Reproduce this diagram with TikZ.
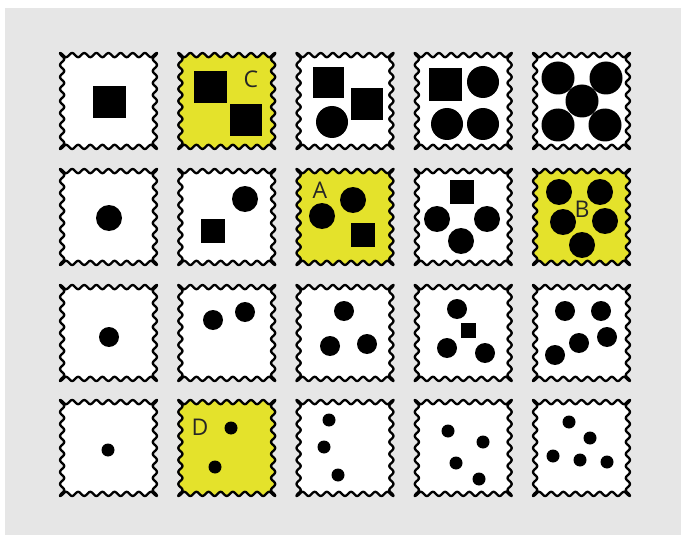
\documentclass[tikz,border=0pt]{standalone}
\usepackage{fontspec}
\setmainfont{Open Sans}
\definecolor{bgrey}{HTML}{E6E6E6}
\definecolor{hiyel}{HTML}{E4E22B}
\newcommand\drawstamp[3]{%
  \begin{scope}[shift={(#1,#2)}]
    \filldraw[stampline, fill=#3]
      (0,0) -- plot[domain=0:97] (\x,{2.1*(1-cos(29.6907*\x))})
      -- plot[domain=0:96] ({97-2.1*(1-cos(30*\x))},\x)
      -- plot[domain=97:0] (\x,{96-2.1*(1-cos(29.6907*\x))})
      -- plot[domain=96:0] ({2.1*(1-cos(30*\x))},\x) -- cycle;
  \end{scope}}
\tikzset{
  stampline/.style={draw=black, line width=2.3pt, line join=round, smooth, samples=97},
  dot/.style={fill=black},
  lbl/.style={font=\fontsize{23}{23}\selectfont, text=black!85, inner sep=0pt}
}
\begin{document}
\begin{tikzpicture}[x=1pt,y=-1pt]
\useasboundingbox (0,0) rectangle (681,535);
\fill[white] (0,0) rectangle (681,535);
\fill[bgrey] (5,8) rectangle (681,535);
% stamps
\foreach \r/\Y in {1/53,2/169,3/285,4/400}{
  \foreach \c/\X in {1/60,2/178.25,3/296.5,4/414.75,5/533}{
    \def\col{white}
    \ifnum\r\c=12 \def\col{hiyel}\fi
    \ifnum\r\c=23 \def\col{hiyel}\fi
    \ifnum\r\c=25 \def\col{hiyel}\fi
    \ifnum\r\c=42 \def\col{hiyel}\fi
    \drawstamp{\X}{\Y}{\col}
  }
}
% row 1
\fill[dot] (93,86) rectangle (126,118);
\fill[dot] (194,71) rectangle (227,103);
\fill[dot] (230,104) rectangle (262,136);
\node[lbl] (C) at (251,79) {C};
\fill[dot] (313,67) rectangle (344,98);
\fill[dot] (351,88) rectangle (383,120);
\fill[dot] (332,122) circle (16);
\fill[dot] (429,68) rectangle (462,101);
\fill[dot] (483,82) circle (16);
\fill[dot] (447,124) circle (16);
\fill[dot] (483,124) circle (16);
\fill[dot] (558,78) circle (16.5);
\fill[dot] (606,78) circle (16.5);
\fill[dot] (582,101) circle (16.5);
\fill[dot] (558,125) circle (16.5);
\fill[dot] (605,125) circle (16.5);
% row 2
\fill[dot] (109,218) circle (13);
\fill[dot] (245,199) circle (13);
\fill[dot] (201,219) rectangle (225,243);
\fill[dot] (322,216) circle (13);
\fill[dot] (353,200) circle (13);
\fill[dot] (351,223) rectangle (375,247);
\node[lbl] (A) at (320,190) {A};
\fill[dot] (450,180) rectangle (474,204);
\fill[dot] (437,219) circle (13);
\fill[dot] (487,219) circle (13);
\fill[dot] (461,241) circle (13);
\fill[dot] (559,192) circle (13);
\fill[dot] (600,192) circle (13);
\fill[dot] (563,222) circle (13);
\fill[dot] (605,221) circle (13);
\fill[dot] (582,245) circle (13);
\node[lbl] (B) at (582,209) {B};
% row 3
\fill[dot] (109,337) circle (10);
\fill[dot] (213,320) circle (10);
\fill[dot] (245,312) circle (10);
\fill[dot] (344,311) circle (10);
\fill[dot] (330,346) circle (10);
\fill[dot] (367,344) circle (10);
\fill[dot] (457,309) circle (10);
\fill[dot] (460.5,322.5) rectangle (475.5,337.5);
\fill[dot] (447,348) circle (10);
\fill[dot] (485,353) circle (10);
\fill[dot] (565,311) circle (10);
\fill[dot] (601,311) circle (10);
\fill[dot] (579,343) circle (10);
\fill[dot] (607,337) circle (10);
\fill[dot] (555,355) circle (10);
% row 4
\fill[dot] (108,450) circle (6.5);
\fill[dot] (231,428) circle (6.5);
\fill[dot] (215,467) circle (6.5);
\node[lbl] (D) at (200,427) {D};
\fill[dot] (329,420) circle (6.5);
\fill[dot] (324,447) circle (6.5);
\fill[dot] (338,475) circle (6.5);
\fill[dot] (448,431) circle (6.5);
\fill[dot] (483,442) circle (6.5);
\fill[dot] (456,463) circle (6.5);
\fill[dot] (479,479) circle (6.5);
\fill[dot] (569,422) circle (6.5);
\fill[dot] (590,438) circle (6.5);
\fill[dot] (553,456) circle (6.5);
\fill[dot] (580,460) circle (6.5);
\fill[dot] (607,462) circle (6.5);
\end{tikzpicture}
\end{document}
